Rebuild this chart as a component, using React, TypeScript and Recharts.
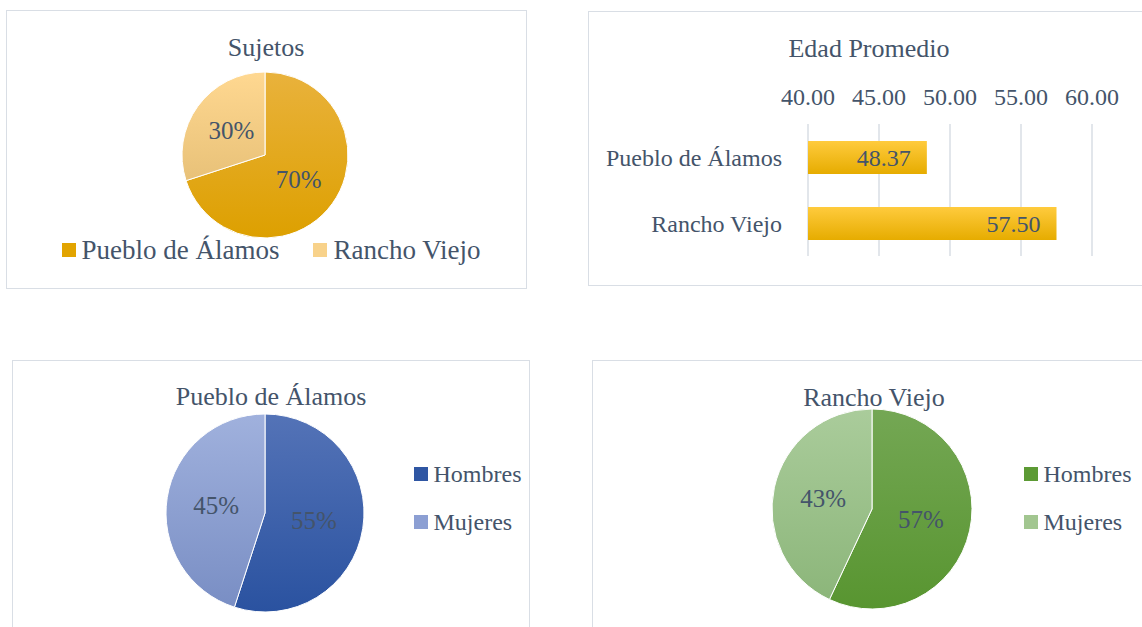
import React from 'react';
import {
  Bar,
  BarChart,
  CartesianGrid,
  Cell,
  LabelList,
  Legend,
  Pie,
  PieChart,
  XAxis,
  YAxis,
} from 'recharts';

const sujetosNames = ['Pueblo de Álamos', 'Rancho Viejo'];
const sujetosValues = [70, 30];

const edadNames = ['Pueblo de Álamos', 'Rancho Viejo'];
const edadValues = [48.37, 57.5];
const edadTicks = [40, 45, 50, 55, 60];

const sexoNames = ['Hombres', 'Mujeres'];
const puebloSexo = [55, 45];
const ranchoSexo = [57, 43];

const FONT = "'Liberation Serif', 'Times New Roman', serif";
const TEXT = '#44546A';
const BORDER = '1.5px solid #D9DEE5';

const sujetosData = sujetosNames.map((name, i) => ({ name, value: sujetosValues[i] }));
const edadData = edadNames.map((name, i) => ({ name, value: edadValues[i] }));
const puebloData = sexoNames.map((name, i) => ({ name, value: puebloSexo[i] }));
const ranchoData = sexoNames.map((name, i) => ({ name, value: ranchoSexo[i] }));

type Grad = { id: string; top: string; bottom: string };

const Gradients = ({ list }: { list: Grad[] }) => (
  <defs>
    {list.map((g) => (
      <linearGradient key={g.id} id={g.id} x1='0' y1='0' x2='0' y2='1'>
        <stop offset='0%' stopColor={g.top} />
        <stop offset='100%' stopColor={g.bottom} />
      </linearGradient>
    ))}
  </defs>
);

const pctLabel = (props: any) => {
  const { cx, cy, midAngle, outerRadius, percent } = props;
  const r = outerRadius * 0.5;
  const rad = Math.PI / 180;
  const x = cx + r * Math.cos(-midAngle * rad);
  const y = cy + r * Math.sin(-midAngle * rad);
  return (
    <text
      x={x}
      y={y}
      fill={TEXT}
      fontSize={25}
      fontFamily={FONT}
      textAnchor='middle'
      dominantBaseline='central'
    >
      {`${Math.round(percent * 100)}%`}
    </text>
  );
};

const Title = ({ text, left, top }: { text: string; left: number; top: number }) => (
  <div
    style={{
      position: 'absolute',
      left: left - 200,
      top,
      width: 400,
      textAlign: 'center',
      fontFamily: FONT,
      fontSize: 26,
      lineHeight: '30px',
      color: TEXT,
      zIndex: 2,
    }}
  >
    {text}
  </div>
);

const makeLegend = (colors: string[], vertical: boolean, fontSize: number, gap: number) =>
  ({ payload }: any) => (
    <div
      style={{
        display: 'flex',
        flexDirection: vertical ? 'column' : 'row',
        gap,
        fontFamily: FONT,
        fontSize,
        color: TEXT,
        lineHeight: '28px',
      }}
    >
      {(payload || []).map((p: any, i: number) => (
        <div key={i} style={{ display: 'flex', alignItems: 'center' }}>
          <span
            style={{
              display: 'inline-block',
              width: 14,
              height: 14,
              background: colors[i],
              marginRight: 6,
            }}
          />
          <span>{p.value}</span>
        </div>
      ))}
    </div>
  );

const panel = (left: number, top: number, width: number, height: number): React.CSSProperties => ({
  position: 'absolute',
  left,
  top,
  width,
  height,
  border: BORDER,
  boxSizing: 'border-box',
  background: '#fff',
});

export default function App() {
  return (
    <div
      style={{
        position: 'absolute',
        left: 0,
        top: 0,
        width: 1142,
        height: 627,
        overflow: 'hidden',
        background: '#fff',
      }}
    >
      {/* Sujetos */}
      <div style={panel(6, 10, 521, 279)}>
        <Title text='Sujetos' left={259} top={22} />
        <div style={{ position: 'absolute', left: -1.5, top: -1.5 }}>
          <PieChart width={521} height={279} margin={{ top: 0, right: 0, bottom: 0, left: 0 }}>
            <Gradients
              list={[
                { id: 'sjA', top: '#E9B23C', bottom: '#DDA000' },
                { id: 'sjB', top: '#FFD891', bottom: '#E8C178' },
              ]}
            />
            <Pie
              data={sujetosData}
              dataKey='value'
              nameKey='name'
              cx={259}
              cy={145}
              outerRadius={83}
              startAngle={90}
              endAngle={-270}
              stroke='#fff'
              strokeWidth={1}
              label={pctLabel}
              labelLine={false}
              isAnimationActive={false}
            >
              <Cell fill='url(#sjA)' />
              <Cell fill='url(#sjB)' />
            </Pie>
            <Legend
              content={makeLegend(['#E2A400', '#F8D28A'], false, 27, 34)}
              wrapperStyle={{ left: 56, top: 226, width: 470 }}
            />
          </PieChart>
        </div>
      </div>

      {/* Edad Promedio */}
      <div style={panel(588, 11, 560, 275)}>
        <Title text='Edad Promedio' left={280} top={22} />
        <div style={{ position: 'absolute', left: -1.5, top: -1.5 }}>
          <BarChart
            width={554}
            height={275}
            data={edadData}
            layout='vertical'
            margin={{ top: 83, right: 50, bottom: 30, left: 0 }}
            barCategoryGap='50%'
          >
            <Gradients list={[{ id: 'barG', top: '#FFCB3D', bottom: '#E6AC00' }]} />
            <CartesianGrid horizontal={false} stroke='#D9DEE5' strokeWidth={1.5} />
            <XAxis
              type='number'
              orientation='top'
              domain={[40, 60]}
              ticks={edadTicks}
              height={30}
              axisLine={false}
              tickLine={false}
              tickSize={0}
              tickMargin={19}
              tickFormatter={(v: number) => v.toFixed(2)}
              tick={{ fill: TEXT, fontSize: 24, fontFamily: FONT }}
              interval={0}
              allowDataOverflow
            />
            <YAxis
              type='category'
              dataKey='name'
              width={220}
              axisLine={false}
              tickLine={false}
              tickSize={0}
              tickMargin={26}
              tick={{ fill: TEXT, fontSize: 24, fontFamily: FONT }}
            />
            <Bar dataKey='value' fill='url(#barG)' barSize={33} isAnimationActive={false}>
              <LabelList
                dataKey='value'
                position='insideRight'
                offset={16}
                formatter={(v: any) => Number(v).toFixed(2)}
                style={{ fill: TEXT, fontSize: 24, fontFamily: FONT }}
              />
            </Bar>
          </BarChart>
        </div>
      </div>

      {/* Pueblo de Álamos */}
      <div style={panel(12, 360, 518, 290)}>
        <Title text='Pueblo de Álamos' left={258} top={21} />
        <div style={{ position: 'absolute', left: -1.5, top: -1.5 }}>
          <PieChart width={518} height={290} margin={{ top: 0, right: 0, bottom: 0, left: 0 }}>
            <Gradients
              list={[
                { id: 'pbH', top: '#5473B7', bottom: '#2A52A0' },
                { id: 'pbM', top: '#A0B1DD', bottom: '#798EC4' },
              ]}
            />
            <Pie
              data={puebloData}
              dataKey='value'
              nameKey='name'
              cx={253}
              cy={153}
              outerRadius={99}
              startAngle={90}
              endAngle={-270}
              stroke='#fff'
              strokeWidth={1}
              label={pctLabel}
              labelLine={false}
              isAnimationActive={false}
            >
              <Cell fill='url(#pbH)' />
              <Cell fill='url(#pbM)' />
            </Pie>
            <Legend
              layout='vertical'
              align='right'
              verticalAlign='top'
              content={makeLegend(['#2F56A3', '#8C9FD3'], true, 24, 20)}
              wrapperStyle={{ left: 402, top: 100, width: 120 }}
            />
          </PieChart>
        </div>
      </div>

      {/* Rancho Viejo */}
      <div style={panel(592, 360, 560, 290)}>
        <Title text='Rancho Viejo' left={281} top={22} />
        <div style={{ position: 'absolute', left: -1.5, top: -1.5 }}>
          <PieChart width={560} height={290} margin={{ top: 0, right: 0, bottom: 0, left: 0 }}>
            <Gradients
              list={[
                { id: 'rvH', top: '#74A754', bottom: '#589530' },
                { id: 'rvM', top: '#AACC9B', bottom: '#8CB67A' },
              ]}
            />
            <Pie
              data={ranchoData}
              dataKey='value'
              nameKey='name'
              cx={280}
              cy={149}
              outerRadius={100}
              startAngle={90}
              endAngle={-270}
              stroke='#fff'
              strokeWidth={1}
              label={pctLabel}
              labelLine={false}
              isAnimationActive={false}
            >
              <Cell fill='url(#rvH)' />
              <Cell fill='url(#rvM)' />
            </Pie>
            <Legend
              layout='vertical'
              align='right'
              verticalAlign='top'
              content={makeLegend(['#5C9A34', '#A2C690'], true, 24, 20)}
              wrapperStyle={{ left: 432, top: 100, width: 140 }}
            />
          </PieChart>
        </div>
      </div>
    </div>
  );
}
